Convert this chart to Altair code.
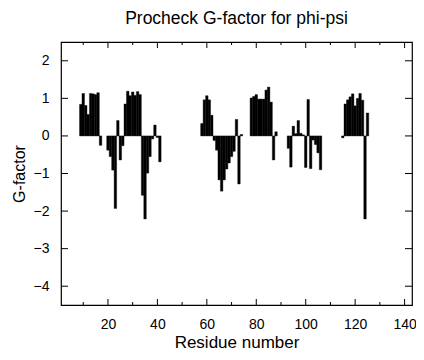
import altair as alt
import pandas as pd

residues = [9, 10, 11, 12, 13, 14, 15, 16, 17,
            20, 21, 22, 23, 24, 25, 26, 27, 28, 29, 30, 31, 32, 33, 34, 35, 36, 37, 38, 39, 40, 41,
            58, 59, 60, 61, 62, 63, 64, 65, 66, 67, 68, 69, 70, 71, 72, 73, 74,
            78, 79, 80, 81, 82, 83, 84, 85, 86, 87, 88,
            93, 94, 95, 96, 97, 98, 99, 100, 101, 102, 103, 104, 105, 106,
            115, 116, 117, 118, 119, 120, 121, 122, 123, 124, 125]
gfactor = [0.84, 1.13, 0.81, 0.57, 1.13, 1.12, 1.10, 1.15, -0.25,
           -0.38, -0.55, -0.91, -1.93, 0.41, -0.64, -0.26, 0.85, 1.19, 1.07, 1.17, 1.08, 1.18, 1.10,
           -1.58, -2.21, -0.99, -0.55, -0.08, 0.29, -0.04, -0.69,
           0.33, 0.96, 1.07, 0.96, 0.55, -0.12, -0.38, -1.17, -1.47, -1.17, -0.88, -0.72, -0.55, -0.41,
           0.44, -1.28, 0.04,
           1.01, 1.05, 1.10, 0.98, 0.98, 0.98, 1.22, 1.30, 0.90, -0.64, 0.11,
           -0.33, -0.83, 0.26, 0.06, 0.41, 0.07, 0.03, -0.84, 0.97, -0.87, -0.11, -0.23, -0.45, -0.90,
           -0.05, 0.85, 0.96, 1.04, 1.12, 0.80, 1.00, 1.13, 0.95, -2.21, 0.61]

x_major = [20, 40, 60, 80, 100, 120, 140]
x_minor = [10, 30, 50, 70, 90, 110, 130]
y_ticks = [2, 1, 0, -1, -2, -3, -4]

W, H = 351, 263
FONT = "Liberation Sans"

df = pd.DataFrame({"res": residues, "g": gfactor})
xs = alt.Scale(domain=[1, 143], nice=False, zero=False)
ys = alt.Scale(domain=[-4.5, 2.5], nice=False, zero=False)

x_axis = alt.Axis(values=x_major, format="d", ticks=False, domain=False,
                  grid=False, labelFontSize=14, labelFont=FONT, labelColor="black",
                  labelPadding=12, title="Residue number", titleFont=FONT,
                  titleFontSize=17, titleFontWeight="normal", titleColor="black",
                  titlePadding=3)
y_axis = alt.Axis(values=y_ticks, format="d", ticks=False, domain=False,
                  grid=False, labelFontSize=14, labelFont=FONT, labelColor="black",
                  labelPadding=12, title="G-factor", titleFont=FONT,
                  titleFontSize=16, titleFontWeight="normal", titleColor="black",
                  titlePadding=6)

bars = alt.Chart(df).transform_calculate(
    x0="datum.res - 0.5", x1="datum.res + 0.5"
).mark_rect(color="black", stroke="black", strokeWidth=0.4).encode(
    x=alt.X("x0:Q", scale=xs, axis=x_axis),
    x2="x1:Q",
    y=alt.Y("g:Q", scale=ys, axis=y_axis),
    y2=alt.datum(0),
)

xmaj = pd.DataFrame({"t": x_major})
xmin = pd.DataFrame({"t": x_minor})
ytk = pd.DataFrame({"t": y_ticks})

def xtick(data, y0, y1):
    return alt.Chart(data).mark_rule(color="black", strokeWidth=1).encode(
        x=alt.X("t:Q", scale=xs, axis=x_axis), y=alt.value(y0), y2=alt.value(y1))

def ytick(x0, x1):
    return alt.Chart(ytk).mark_rule(color="black", strokeWidth=1).encode(
        y=alt.Y("t:Q", scale=ys, axis=y_axis), x=alt.value(x0), x2=alt.value(x1))

chart = alt.layer(
    bars,
    xtick(xmaj, H, H - 6), xtick(xmaj, 0, 6),
    xtick(xmin, H, H - 3), xtick(xmin, 0, 3),
    ytick(0, 7), ytick(W, W - 7),
).properties(
    width=W, height=H,
    title=alt.TitleParams("Procheck G-factor for phi-psi", font=FONT, fontSize=17.5,
                          fontWeight="normal", color="black", anchor="middle", offset=14),
    autosize="none",
    padding={"left": 53, "top": 34, "right": 4, "bottom": 47},
).configure_view(stroke="black", strokeWidth=1.2)

chart.save("out.html", embed_options={"renderer": "svg", "actions": False})
